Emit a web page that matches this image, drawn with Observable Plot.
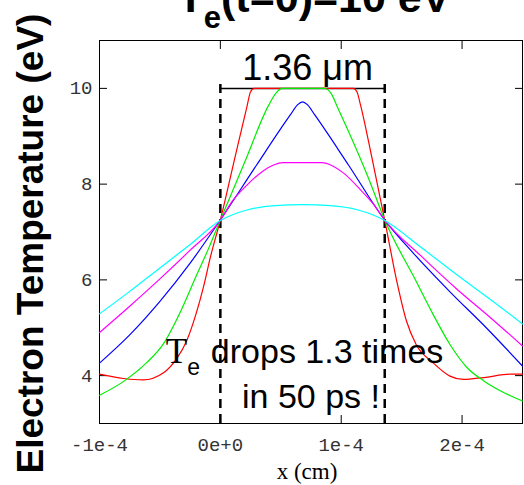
<!DOCTYPE html>
<html>
<head>
<meta charset="utf-8">
<script src="https://cdn.jsdelivr.net/npm/d3@7"></script>
<script src="https://cdn.jsdelivr.net/npm/@observablehq/plot@0.6"></script>
<style>
  html, body { margin: 0; padding: 0; background: #fff; }
  svg { display: block; }
</style>
</head>
<body>
<div id="chart"></div>
<script>
// Axis ticks
const xTicks = [-1e-4, 0, 1e-4, 2e-4];
const xTickLabels = ["-1e-4", "0e+0", "1e-4", "2e-4"];
const yTicks = [4, 6, 8, 10];

// Edges of the heated slab (cm) and its initial temperature (eV)
const slabEdges = [0, 1.36e-4];
const slabTe = 10;

// Temperature profiles; positions in units of 1e-4 cm, temperatures in eV
const redX = [-1.0, -0.8, -0.64, -0.47, -0.36, -0.28, -0.2, -0.14, -0.08, 0, 0.12, 0.22, 0.25, 0.28, 1.1, 1.13, 1.16, 1.25, 1.36, 1.46, 1.54, 1.62, 1.76, 1.9, 2.01, 2.18, 2.4, 2.5];
const redT = [4.03, 3.94, 3.91, 4.06, 4.36, 4.72, 5.3, 5.85, 6.5, 7.25, 8.55, 9.62, 9.93, 10.0, 10.0, 9.93, 9.65, 8.6, 7.25, 5.97, 5.14, 4.65, 4.27, 3.99, 3.92, 3.96, 4.03, 4.03];

const greenX = [-1.0, -0.8, -0.61, -0.47, -0.335, -0.2, -0.09, 0, 0.2, 0.4, 0.46, 0.51, 0.86, 0.92, 0.97, 1.08, 1.22, 1.36, 1.62, 1.76, 1.9, 2.04, 2.18, 2.32, 2.5];
const greenT = [3.59, 3.88, 4.27, 4.67, 5.31, 6.08, 6.7, 7.25, 8.45, 9.65, 9.9, 10.0, 10.0, 9.88, 9.6, 8.99, 8.16, 7.25, 5.97, 5.28, 4.65, 4.17, 3.89, 3.68, 3.47];

const blueX = [-1.0, -0.75, -0.5, -0.25, 0, 0.3, 0.58, 0.64, 0.68, 0.72, 0.78, 1.06, 1.36, 1.6, 1.9, 2.2, 2.5];
const blueT = [4.26, 4.85, 5.55, 6.35, 7.25, 8.4, 9.45, 9.66, 9.72, 9.66, 9.45, 8.4, 7.25, 6.55, 5.75, 5.0, 4.2];

const magentaX = [-1.0, -0.75, -0.5, -0.25, 0, 0.1, 0.22, 0.34, 0.44, 0.52, 0.84, 0.93, 1.02, 1.16, 1.27, 1.36, 1.66, 1.96, 2.24, 2.5];
const magentaT = [4.9, 5.45, 6.02, 6.62, 7.25, 7.65, 7.98, 8.25, 8.4, 8.45, 8.45, 8.38, 8.23, 7.88, 7.57, 7.25, 6.5, 5.8, 5.2, 4.62];

const cyanX = [-1.0, -0.75, -0.5, -0.25, 0, 0.1, 0.22, 0.45, 0.68, 0.91, 1.14, 1.26, 1.36, 1.66, 1.96, 2.24, 2.5];
const cyanT = [5.29, 5.76, 6.25, 6.74, 7.24, 7.36, 7.46, 7.55, 7.57, 7.55, 7.46, 7.36, 7.24, 6.68, 6.1, 5.58, 5.08];

const profiles = [
  {color: "#ff0000", xs: redX, ts: redT},
  {color: "#00ee00", xs: greenX, ts: greenT},
  {color: "#0000ff", xs: blueX, ts: blueT},
  {color: "#ff00ff", xs: magentaX, ts: magentaT},
  {color: "#00ffff", xs: cyanX, ts: cyanT}
];

const sans = "'Liberation Sans', Arial, sans-serif";
const serif = "'Liberation Serif', 'Times New Roman', serif";
const mono = "'Liberation Mono', 'Courier New', monospace";

const rows = (p) => p.xs.map((u, i) => ({x: u * 1e-4, t: p.ts[i]}));
const slabMid = (slabEdges[0] + slabEdges[1]) / 2;

const chart = Plot.plot({
  width: 524,
  height: 485,
  marginLeft: 99,
  marginRight: 2,
  marginTop: 40,
  marginBottom: 62,
  style: {background: "#fff", color: "#000"},
  x: {domain: [-1e-4, 2.5e-4]},
  y: {domain: [3, 11]},
  marks: [
    // Inward ticks on all four sides
    Plot.axisX({anchor: "bottom", ticks: xTicks, tickSize: 8, dy: -8, tickFormat: () => "", label: null, stroke: "#000"}),
    Plot.axisX({anchor: "top", ticks: xTicks, tickSize: 8, dy: 8, tickFormat: () => "", label: null, stroke: "#000"}),
    Plot.axisY({anchor: "left", ticks: yTicks, tickSize: 8, dx: 8, tickFormat: () => "", label: null, stroke: "#000"}),
    Plot.axisY({anchor: "right", ticks: yTicks, tickSize: 8, dx: -8, tickFormat: () => "", label: null, stroke: "#000"}),
    // Tick labels
    Plot.axisX({anchor: "bottom", ticks: xTicks, tickSize: 0, tickPadding: 14, label: null,
      tickFormat: (d) => xTickLabels[xTicks.indexOf(d)], fontFamily: mono, fontSize: 19, fill: "#333"}),
    Plot.axisY({anchor: "left", ticks: yTicks, tickSize: 0, tickPadding: 7, label: null,
      fontFamily: mono, fontSize: 19, fill: "#333"}),
    Plot.frame({stroke: "#000", strokeWidth: 1}),

    // Slab width marker and slab edges
    Plot.ruleY([slabTe], {x1: slabEdges[0], x2: slabEdges[1], stroke: "#000", strokeWidth: 1.5}),
    Plot.ruleX(slabEdges, {y1: 3, y2: 10.2, stroke: "#000", strokeWidth: 2.5, strokeDasharray: "9,6"}),

    // Temperature profiles
    ...profiles.map((p) => Plot.line(rows(p), {x: "x", y: "t", stroke: p.color, strokeWidth: 1.2, curve: "monotone-x"})),

    // Slab width label
    Plot.text(["1.36 \u03bcm"], {x: slabMid, y: slabTe, text: (d) => d, lineAnchor: "bottom", dy: -8, dx: 5,
      fontFamily: sans, fontSize: 36}),

    // Note on the temperature drop
    Plot.text(["T"], {x: 0, y: 4.27, text: (d) => d, textAnchor: "start", lineAnchor: "bottom", dx: -54.5,
      fontFamily: serif, fontSize: 35}),
    Plot.text(["e"], {x: 0, y: 4.27, text: (d) => d, textAnchor: "start", lineAnchor: "bottom", dx: -33, dy: 12.5,
      fontFamily: sans, fontSize: 23}),
    Plot.text(["drops 1.3 times"], {x: 0, y: 4.27, text: (d) => d, textAnchor: "start", lineAnchor: "bottom", dx: -9.5,
      fontFamily: sans, fontSize: 34}),
    Plot.text(["in 50 ps !"], {x: 0.75e-4, y: 3.33, text: (d) => d, lineAnchor: "bottom",
      fontFamily: sans, fontSize: 34}),

    // Title
    Plot.text(["T"], {frameAnchor: "top-left", text: (d) => d, textAnchor: "start", lineAnchor: "bottom", dx: 78, dy: -28.5,
      fontFamily: sans, fontWeight: "bold", fontSize: 43}),
    Plot.text(["e"], {frameAnchor: "top-left", text: (d) => d, textAnchor: "start", lineAnchor: "bottom", dx: 104.3, dy: -12.5,
      fontFamily: sans, fontWeight: "bold", fontSize: 31}),
    Plot.text(["(t=0)=10 eV"], {frameAnchor: "top-left", text: (d) => d, textAnchor: "start", lineAnchor: "bottom", dx: 121.5, dy: -28.5,
      fontFamily: sans, fontWeight: "bold", fontSize: 43}),

    // Axis titles
    Plot.text(["x (cm)"], {frameAnchor: "bottom", text: (d) => d, lineAnchor: "bottom", dy: 55, dx: -4,
      fontFamily: serif, fontSize: 23}),
    Plot.text(["Electron Temperature (eV)"], {frameAnchor: "bottom-left", text: (d) => d, rotate: -90,
      textAnchor: "start", lineAnchor: "bottom", dx: -57, dy: 50,
      fontFamily: sans, fontWeight: "bold", fontSize: 37})
  ]
});

document.getElementById("chart").append(chart);
</script>
</body>
</html>
